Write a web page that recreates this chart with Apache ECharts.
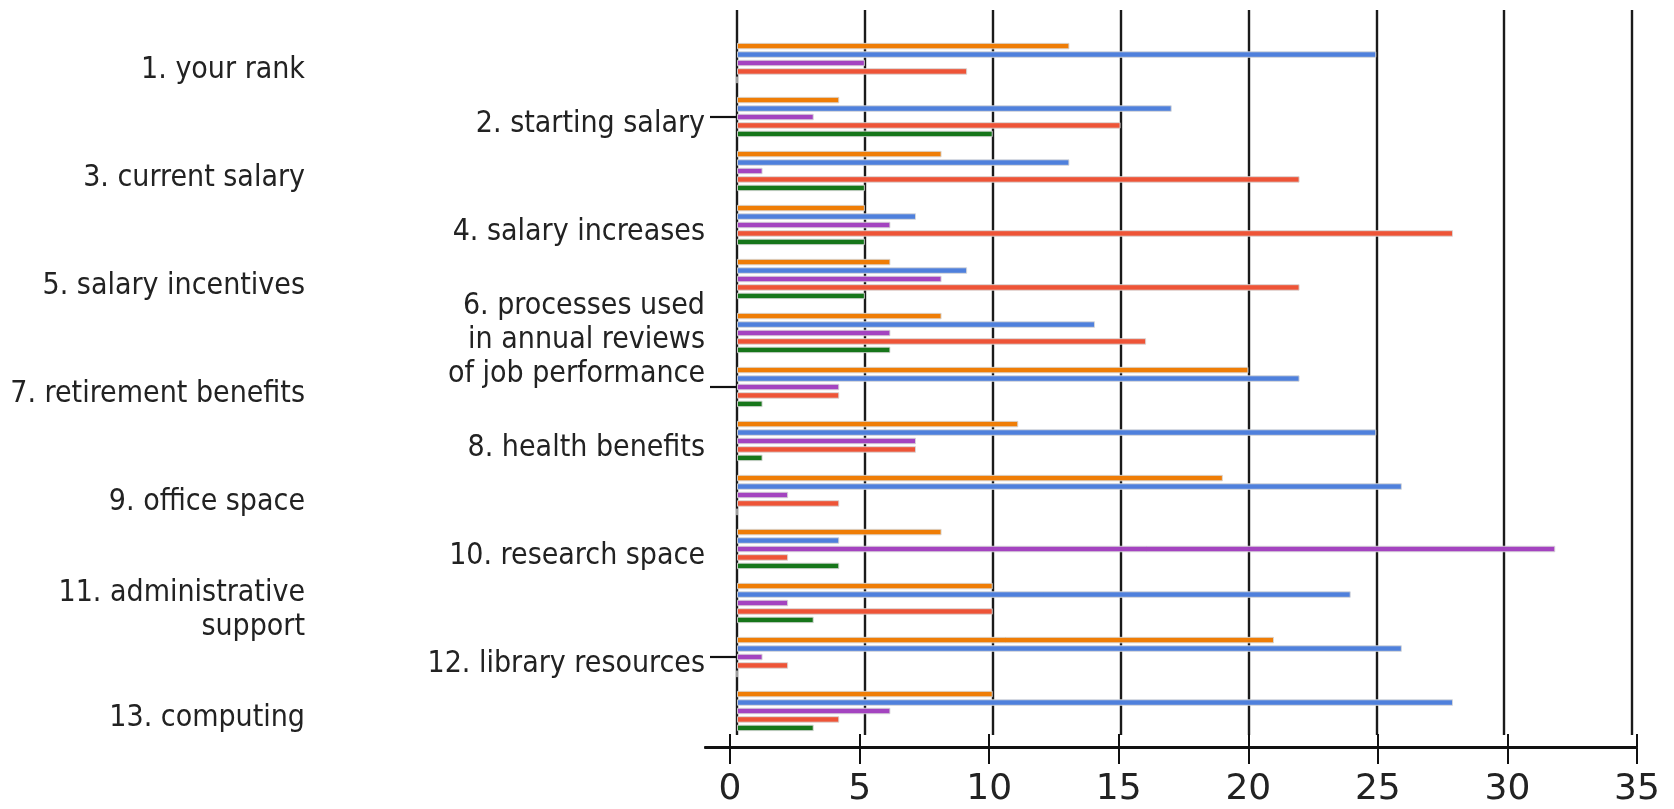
<!DOCTYPE html>
<html>
<head>
<meta charset="utf-8">
<script src="https://cdn.jsdelivr.net/npm/echarts@6/dist/echarts.min.js"></script>
<style>
html,body{margin:0;padding:0;background:#fff;}
#chart{width:1674px;height:809px;}
</style>
</head>
<body>
<div id="chart"></div>
<script>
const categories = [
  '1. your rank',
  '2. starting salary',
  '3. current salary',
  '4. salary increases',
  '5. salary incentives',
  '6. processes used\nin annual reviews\nof job performance',
  '7. retirement benefits',
  '8. health benefits',
  '9. office space',
  '10. research space',
  '11. administrative\nsupport',
  '12. library resources',
  '13. computing'
];
const seriesOrange = [13, 4, 8, 5, 6, 8, 20, 11, 19, 8, 10, 21, 10];
const seriesBlue   = [25, 17, 13, 7, 9, 14, 22, 25, 26, 4, 24, 26, 28];
const seriesPurple = [5, 3, 1, 6, 8, 6, 4, 7, 2, 32, 2, 1, 6];
const seriesRed    = [9, 15, 22, 28, 22, 16, 4, 7, 4, 2, 10, 2, 4];
const seriesGreen  = [0, 10, 5, 5, 5, 6, 1, 1, 0, 4, 3, 0, 3];
const tickValues = [0, 5, 10, 15, 20, 25, 30, 35];

const colors = ['#ef7d06', '#4f80dc', '#a444c0', '#ee5437', '#16761a'];
const seriesData = [seriesOrange, seriesBlue, seriesPurple, seriesRed, seriesGreen];

const labelFont = "'Liberation Sans Narrow', 'DejaVu Sans Condensed', sans-serif";
const labelSize = 30;
const tickedIdx = [1, 6, 11];

const chart = echarts.init(document.getElementById('chart'), null, {renderer: 'canvas'});

const option = {
  animation: false,
  backgroundColor: '#ffffff',
  grid: [
    {left: 737, right: 42, top: 10, bottom: 74, outerBoundsMode: 'none', containLabel: false},
    {left: 737, right: 42, top: 36, bottom: 71, outerBoundsMode: 'none', containLabel: false},
    {left: 705, right: 37, top: 747, height: 1, outerBoundsMode: 'none', containLabel: false}
  ],
  xAxis: [
    {
      gridIndex: 0, type: 'value', min: 0, max: 35, interval: 5,
      axisLine: {show: false}, axisTick: {show: false}, axisLabel: {show: false},
      splitLine: {show: true, lineStyle: {color: '#1a1a1a', width: 2.4}}
    },
    {
      gridIndex: 1, type: 'value', min: 0, max: 35, interval: 5, show: false
    },
    {
      gridIndex: 2, type: 'value', position: 'bottom', min: -0.965, max: 35,
      axisLine: {show: true, lineStyle: {color: '#111', width: 2}},
      axisTick: {show: true, customValues: tickValues, length: 16, lineStyle: {color: '#111', width: 2}},
      axisLabel: {show: true, customValues: tickValues, margin: 24,
        fontFamily: "'DejaVu Sans', sans-serif", fontSize: 36, color: '#222'},
      splitLine: {show: false}
    },
    {
      gridIndex: 2, type: 'value', position: 'top', min: -0.965, max: 35,
      axisLine: {show: true, lineStyle: {color: '#111', width: 2}},
      axisTick: {show: true, customValues: tickValues, length: 13, lineStyle: {color: '#111', width: 2}},
      axisLabel: {show: false},
      splitLine: {show: false}
    }
  ],
  yAxis: [
    {gridIndex: 0, type: 'value', show: false},
    {
      gridIndex: 1, type: 'category', data: categories, inverse: true,
      axisLine: {show: false},
      axisTick: {
        show: true, alignWithLabel: true, length: 27,
        interval: function (idx) { return tickedIdx.indexOf(idx) >= 0; },
        lineStyle: {color: '#111', width: 2.2}
      },
      axisLabel: {
        interval: 0, margin: 32, align: 'right', padding: [15, 0, 0, 0],
        fontFamily: labelFont, fontSize: labelSize, color: '#222', lineHeight: 34,
        formatter: function (v, i) {
          const key = (i % 2 === 0) ? 'far' : 'near';
          return v.split('\n').map(function (s) { return '{' + key + '|' + s + '}'; }).join('\n');
        },
        rich: {
          far: {fontFamily: labelFont, fontSize: labelSize, color: '#222', lineHeight: 34, padding: [0, 400, 0, 0], align: 'right'},
          near: {fontFamily: labelFont, fontSize: labelSize, color: '#222', lineHeight: 34, align: 'right'}
        }
      },
      splitLine: {show: false}
    },
    {gridIndex: 2, type: 'value', show: false}
  ],
  series: seriesData.map(function (d, k) {
    return {
      type: 'bar',
      xAxisIndex: 1,
      yAxisIndex: 1,
      data: d,
      barWidth: 6.5,
      barGap: '30%',
      itemStyle: {color: colors[k], borderColor: 'rgba(215,215,215,0.9)', borderWidth: 1},
      silent: true
    };
  })
};
chart.setOption(option);
</script>
</body>
</html>
